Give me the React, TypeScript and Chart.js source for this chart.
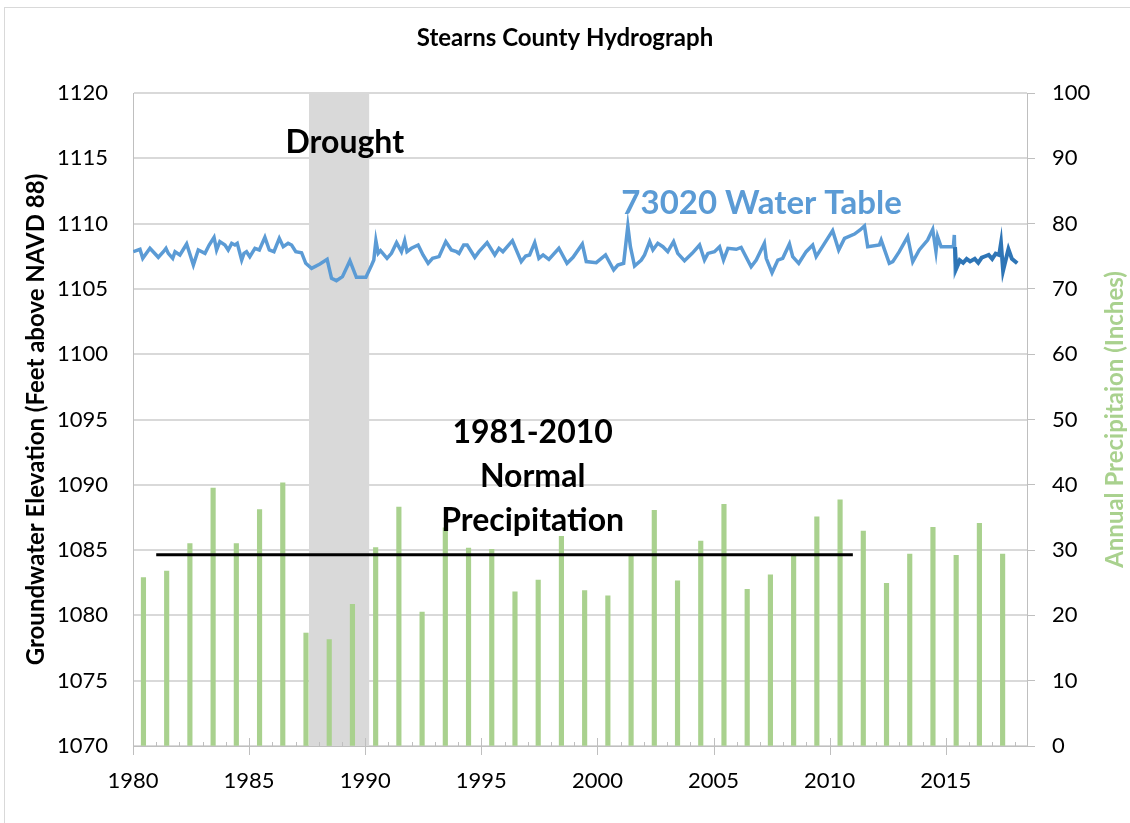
import React, { useEffect, useRef } from "react";
import { Chart, registerables } from "chart.js";

Chart.register(...registerables);

// ---- Data ----
const precipYears = [
  1980, 1981, 1982, 1983, 1984, 1985, 1986, 1987, 1988, 1989,
  1990, 1991, 1992, 1993, 1994, 1995, 1996, 1997, 1998, 1999,
  2000, 2001, 2002, 2003, 2004, 2005, 2006, 2007, 2008, 2009,
  2010, 2011, 2012, 2013, 2014, 2015, 2016, 2017,
];
const precipInches = [
  25.8, 26.8, 31.0, 39.5, 31.0, 36.2, 40.3, 17.3, 16.3, 21.7,
  30.4, 36.6, 20.5, 33.4, 30.3, 30.1, 23.6, 25.4, 32.1, 23.8,
  23.0, 29.2, 36.1, 25.3, 31.4, 37.0, 24.0, 26.2, 29.3, 35.1,
  37.7, 32.9, 24.9, 29.4, 33.5, 29.2, 34.1, 29.4,
];
const barDateOffset = 0.45; // annual totals plotted mid-year

const normalYears = [1981, 2011];
const normalInches = 29.3;

const droughtStart = 1987.58;
const droughtEnd = 1990.17;

const waterYears = [
  1980.01, 1980.3, 1980.42, 1980.73, 1981.09, 1981.31, 1981.42, 1981.52, 1981.71, 1981.81,
  1982.02, 1982.31, 1982.6, 1982.81, 1983.1, 1983.28, 1983.49, 1983.6, 1983.74, 1983.96,
  1984.1, 1984.25, 1984.39, 1984.49, 1984.68, 1984.78, 1984.89, 1985.03, 1985.25, 1985.44,
  1985.68, 1985.87, 1986.07, 1986.3, 1986.47, 1986.68, 1986.83, 1987.01, 1987.26, 1987.44,
  1987.69, 1988.05, 1988.36, 1988.55, 1988.76, 1989.02, 1989.34, 1989.62, 1990.03, 1990.27,
  1990.37, 1990.46, 1990.56, 1990.66, 1990.94, 1991.13, 1991.35, 1991.56, 1991.7, 1991.8,
  1991.99, 1992.28, 1992.49, 1992.71, 1992.9, 1993.18, 1993.47, 1993.71, 1993.93, 1994.04,
  1994.24, 1994.39, 1994.72, 1994.9, 1995.25, 1995.58, 1995.76, 1995.93, 1996.34, 1996.72,
  1996.91, 1997.08, 1997.3, 1997.48, 1997.66, 1997.91, 1998.34, 1998.69, 1998.95, 1999.35,
  1999.52, 1999.95, 2000.35, 2000.7, 2000.88, 2001.13, 2001.31, 2001.42, 2001.6, 2001.89,
  2002.03, 2002.25, 2002.39, 2002.6, 2002.82, 2003.03, 2003.28, 2003.46, 2003.75, 2004.08,
  2004.4, 2004.61, 2004.76, 2005.04, 2005.26, 2005.43, 2005.62, 2005.98, 2006.19, 2006.62,
  2006.84, 2007.19, 2007.27, 2007.52, 2007.77, 2007.98, 2008.27, 2008.41, 2008.67, 2008.99,
  2009.27, 2009.42, 2009.78, 2010.13, 2010.39, 2010.64, 2011.07, 2011.31, 2011.5, 2011.64,
  2012.14, 2012.22, 2012.57, 2012.72, 2013.0, 2013.36, 2013.58, 2013.86, 2014.22, 2014.44,
  2014.58, 2014.65, 2014.8, 2015.33, 2015.37, 2015.41, 2015.6,
];
const waterLevels = [
  1107.85, 1108.03, 1107.34, 1108.11, 1107.42, 1107.85, 1108.11, 1107.72, 1107.34, 1107.85,
  1107.6, 1108.44, 1106.83, 1107.98, 1107.72, 1108.36, 1108.95, 1107.98, 1108.62, 1108.36,
  1107.98, 1108.49, 1108.36, 1108.49, 1107.21, 1107.72, 1107.85, 1107.47, 1108.11, 1107.98,
  1108.95, 1107.98, 1107.85, 1108.87, 1108.23, 1108.49, 1108.36, 1107.85, 1107.77, 1106.96,
  1106.57, 1106.91, 1107.26, 1105.81, 1105.63, 1105.94, 1107.16, 1105.89, 1105.89, 1106.8,
  1107.21, 1108.69, 1107.72, 1107.93, 1107.34, 1107.72, 1108.54, 1107.85, 1108.69, 1107.85,
  1108.11, 1108.36, 1107.6, 1106.96, 1107.34, 1107.47, 1108.62, 1107.98, 1107.85, 1107.72,
  1108.36, 1108.36, 1107.42, 1107.85, 1108.54, 1107.6, 1108.11, 1107.85, 1108.69, 1107.09,
  1107.52, 1107.6, 1108.54, 1107.34, 1107.6, 1107.26, 1108.11, 1106.96, 1107.42, 1108.44,
  1107.09, 1107.01, 1107.6, 1106.45, 1106.83, 1106.96, 1109.82, 1108.23, 1106.75, 1107.21,
  1107.6, 1108.62, 1107.98, 1108.49, 1108.23, 1107.85, 1108.62, 1107.72, 1107.16, 1107.72,
  1108.36, 1107.21, 1107.72, 1107.85, 1108.23, 1107.21, 1108.11, 1108.03, 1108.18, 1106.7,
  1107.21, 1108.49, 1107.34, 1106.24, 1107.21, 1107.34, 1108.44, 1107.47, 1106.96, 1107.85,
  1108.36, 1107.47, 1108.49, 1109.46, 1107.98, 1108.87, 1109.2, 1109.51, 1109.82, 1108.23,
  1108.36, 1108.74, 1106.96, 1107.09, 1107.85, 1109.0, 1107.08, 1107.98, 1108.74, 1109.56,
  1107.85, 1109.0, 1108.23, 1108.23, 1109.13, 1106.32, 1107.1,
];

const recentYears = [
  2015.4, 2015.45, 2015.6, 2015.75, 2015.9, 2016.05, 2016.25, 2016.4, 2016.55, 2016.7,
  2016.85, 2017.0, 2017.15, 2017.3, 2017.38, 2017.47, 2017.58, 2017.7, 2017.85, 2018.08,
];
const recentLevels = [
  1108.2, 1106.6, 1107.2, 1107.0, 1107.3, 1107.1, 1107.3, 1107.0, 1107.4, 1107.5,
  1107.6, 1107.3, 1107.7, 1107.6, 1108.5, 1106.4, 1107.2, 1108.05, 1107.3, 1106.96,
];

const xTickYears = [1980, 1985, 1990, 1995, 2000, 2005, 2010, 2015];

const FONT = "Lato, 'Open Sans', sans-serif";

export default function App() {
  const ref = useRef<HTMLCanvasElement>(null);

  useEffect(() => {
    document.body.style.margin = "0";
    const canvas = ref.current!;

    const decor = {
      id: "decor",
      beforeDraw(chart: any) {
        const ctx = chart.ctx;
        ctx.save();
        ctx.fillStyle = "#ffffff";
        ctx.fillRect(0, 0, chart.width, chart.height);
        ctx.strokeStyle = "#d9d9d9";
        ctx.lineWidth = 1;
        ctx.strokeRect(4.5, 7.5, 2000, 2000);
        ctx.restore();
      },
      beforeDatasetsDraw(chart: any) {
        const ctx = chart.ctx;
        const xs = chart.scales.x;
        const a = chart.chartArea;
        const x0 = xs.getPixelForValue(droughtStart);
        const x1 = xs.getPixelForValue(droughtEnd);
        ctx.save();
        ctx.fillStyle = "#d9d9d9";
        ctx.fillRect(x0, a.top, x1 - x0, a.bottom - a.top);
        ctx.restore();
      },
      afterDatasetsDraw(chart: any) {
        const ctx = chart.ctx;
        const xs = chart.scales.x;
        const ys = chart.scales.y;
        ctx.save();
        ctx.textAlign = "center";
        ctx.textBaseline = "middle";
        ctx.font = `bold 32px ${FONT}`;
        ctx.fillStyle = "#000000";
        ctx.fillText("Drought", xs.getPixelForValue(1989.12), ys.getPixelForValue(1116.17));
        ctx.font = `bold 33px ${FONT}`;
        ctx.fillStyle = "#5b9bd5";
        ctx.fillText("73020 Water Table", xs.getPixelForValue(2007.07), ys.getPixelForValue(1111.58));
        ctx.font = `bold 32px ${FONT}`;
        ctx.fillStyle = "#000000";
        const nx = xs.getPixelForValue(1997.21);
        ctx.fillText("1981-2010", nx, ys.getPixelForValue(1093.97));
        ctx.fillText("Normal", nx, ys.getPixelForValue(1090.6));
        ctx.fillText("Precipitation", nx, ys.getPixelForValue(1087.23));
        ctx.restore();
      },
      afterDraw(chart: any) {
        const ctx = chart.ctx;
        const xs = chart.scales.x;
        const a = chart.chartArea;
        ctx.save();
        ctx.strokeStyle = "#bfbfbf";
        ctx.lineWidth = 1;
        for (let yr = Math.ceil(xs.min); yr <= xs.max; yr++) {
          const px = Math.round(xs.getPixelForValue(yr)) + 0.5;
          ctx.beginPath();
          if (yr % 5 === 0) {
            ctx.moveTo(px, yr === xs.min ? a.bottom : a.bottom - 8);
            ctx.lineTo(px, a.bottom + 9);
          } else {
            ctx.moveTo(px, a.bottom - 4);
            ctx.lineTo(px, a.bottom);
          }
          ctx.stroke();
        }
        // axis titles
        const cy = (a.top + a.bottom) / 2;
        ctx.font = `bold 24px ${FONT}`;
        ctx.textAlign = "center";
        ctx.textBaseline = "middle";
        ctx.fillStyle = "#000000";
        ctx.save();
        ctx.translate(36, cy);
        ctx.rotate(-Math.PI / 2);
        ctx.fillText("Groundwater Elevation (Feet above NAVD 88)", 0, 0);
        ctx.restore();
        ctx.fillStyle = "#a9d18e";
        ctx.save();
        ctx.translate(1115, cy);
        ctx.rotate(-Math.PI / 2);
        ctx.fillText("Annual Precipitaion (Inches)", 0, 0);
        ctx.restore();
        ctx.restore();
      },
    };

    const tickFont = { family: FONT, size: 22 };

    const chart = new Chart(canvas, {
      type: "bar",
      data: {
        datasets: [
          {
            type: "line",
            label: "73020 Water Table (recent)",
            data: recentYears.map((x, i) => ({ x, y: recentLevels[i] })),
            xAxisID: "x",
            yAxisID: "y",
            borderColor: "#2e75b6",
            borderWidth: 4,
            pointRadius: 0,
            tension: 0,
            fill: false,
            order: 0,
          } as any,
          {
            type: "line",
            label: "73020 Water Table",
            data: waterYears.map((x, i) => ({ x, y: waterLevels[i] })),
            xAxisID: "x",
            yAxisID: "y",
            borderColor: "#5b9bd5",
            borderWidth: 3.5,
            pointRadius: 0,
            tension: 0,
            fill: false,
            order: 1,
          } as any,
          {
            type: "line",
            label: "1981-2010 Normal Precipitation",
            data: normalYears.map((x) => ({ x, y: normalInches })),
            xAxisID: "x",
            yAxisID: "y1",
            borderColor: "#000000",
            borderWidth: 3,
            pointRadius: 0,
            fill: false,
            order: 2,
          } as any,
          {
            type: "bar",
            label: "Annual Precipitation",
            data: precipYears.map((yr, i) => ({ x: yr + barDateOffset, y: precipInches[i] })),
            xAxisID: "x",
            yAxisID: "y1",
            backgroundColor: "#a9d18e",
            borderWidth: 0,
            barThickness: 4.5,
            order: 3,
          } as any,
        ],
      },
      options: {
        responsive: false,
        animation: false,
        devicePixelRatio: 1,
        layout: { padding: 0 },
        plugins: {
          legend: { display: false },
          tooltip: { enabled: false },
          title: {
            display: true,
            text: "Stearns County Hydrograph",
            color: "#000000",
            font: { family: FONT, size: 24, weight: "bold", lineHeight: 1.2 },
            padding: { top: 24, bottom: 93 - 24 - 24 * 1.2 },
          },
        },
        scales: {
          x: {
            type: "linear",
            position: "bottom",
            min: 1980,
            max: 2018.5,
            offset: false,
            grid: { display: true, drawOnChartArea: false, drawTicks: false, offset: false, color: "#bfbfbf" },
            border: { display: true, color: "#bfbfbf", width: 1 },
            ticks: {
              font: tickFont,
              color: "#000000",
              padding: 22,
              maxRotation: 0,
              autoSkip: false,
              callback: (v: any) => String(v),
            },
            afterBuildTicks: (s: any) => {
              s.ticks = xTickYears.map((v) => ({ value: v }));
            },
            afterFit: (s: any) => {
              s.height = 77;
            },
          },
          y: {
            type: "linear",
            position: "left",
            min: 1070,
            max: 1120,
            grid: { color: "#d9d9d9", lineWidth: 2, drawTicks: false },
            border: { display: true, color: "#bfbfbf", width: 1 },
            ticks: {
              stepSize: 5,
              font: tickFont,
              color: "#000000",
              padding: 25,
              callback: (v: any) => String(v),
            },
            afterFit: (s: any) => {
              s.width = 133;
            },
          },
          y1: {
            type: "linear",
            position: "right",
            min: 0,
            max: 100,
            grid: { drawOnChartArea: false, drawTicks: true, tickLength: 8, color: "#bfbfbf" },
            border: { display: true, color: "#bfbfbf", width: 1 },
            ticks: {
              stepSize: 10,
              font: tickFont,
              color: "#000000",
              padding: 17,
              callback: (v: any) => String(v),
            },
            afterFit: (s: any) => {
              s.width = 103;
            },
          },
        },
      } as any,
      plugins: [decor],
    });

    return () => chart.destroy();
  }, []);

  return (
    <div style={{ width: 1130, height: 823 }}>
      <canvas ref={ref} width={1130} height={823} style={{ display: "block" }} />
    </div>
  );
}
